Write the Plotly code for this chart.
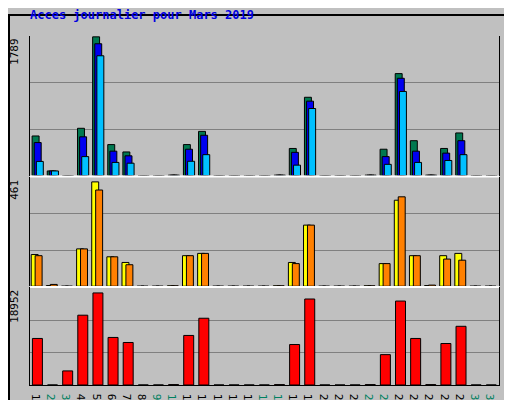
import plotly.graph_objects as go

days = list(range(1, 32))
weekend = [2, 3, 9, 10, 16, 17, 23, 24, 30, 31]

hits = [511, 60, 0, 610, 1789, 400, 305, 0, 0, 6, 400, 570, 0, 0, 0, 0, 6, 350, 1010, 0, 0, 0, 6, 340, 1315, 450, 6, 350, 550, 0, 0]
fichiers = [426, 60, 0, 500, 1700, 315, 255, 0, 0, 6, 340, 520, 0, 0, 0, 0, 6, 300, 960, 0, 0, 0, 6, 245, 1255, 315, 6, 290, 450, 0, 0]
pages = [183, 60, 0, 245, 1545, 170, 160, 0, 0, 6, 185, 270, 0, 0, 0, 0, 6, 135, 865, 0, 0, 0, 6, 145, 1085, 170, 6, 195, 270, 0, 0]
visites = [140, 3, 0, 165, 461, 130, 105, 0, 0, 2, 135, 145, 0, 0, 0, 0, 2, 105, 270, 0, 0, 0, 2, 100, 380, 135, 3, 135, 145, 0, 0]
sites = [135, 8, 0, 165, 425, 130, 95, 0, 0, 2, 135, 145, 0, 0, 0, 0, 2, 100, 270, 0, 0, 0, 2, 100, 395, 135, 5, 120, 115, 0, 0]
ko = [9580, 0, 2900, 14370, 18952, 9790, 8750, 0, 0, 80, 10200, 13740, 0, 0, 0, 0, 80, 8330, 17700, 0, 0, 0, 80, 6250, 17280, 9580, 80, 8540, 12080, 0, 0]

line = dict(color="black", width=1)
fig = go.Figure()

def bars(vals, color, off, w, ax):
    fig.add_trace(go.Bar(x=days, y=vals, marker=dict(color=color, line=line),
                         offset=off, width=w, yaxis=ax, xaxis="x", hoverinfo="skip"))

bars(hits, "#007850", -0.36, 0.46, "y")
bars(fichiers, "#0000f0", -0.22, 0.46, "y")
bars(pages, "#00c0ff", -0.08, 0.46, "y")
bars(visites, "#ffff00", -0.42, 0.46, "y2")
bars(sites, "#ff8000", -0.16, 0.46, "y2")
bars(ko, "#ff0000", -0.34, 0.66, "y3")

ticktext = [("<span style='color:#008060'>%d</span>" % d) if d in weekend else str(d) for d in days]

yax = dict(showticklabels=False, showgrid=True, gridcolor="#808080", gridwidth=1, anchor="x",
           zeroline=False, showline=True, linecolor="black", mirror=True, ticks="")
fig.update_layout(
    width=512, height=400, showlegend=False, barmode="overlay",
    paper_bgcolor="#c0c0c0", plot_bgcolor="#c0c0c0",
    margin=dict(l=22, r=21, t=28, b=23, autoexpand=False),
    font=dict(family="DejaVu Sans Mono", size=11, color="black"),
    xaxis=dict(range=[0.5, 31.5], tickvals=days, ticktext=ticktext, showgrid=False, anchor="y3",
               automargin=False, showline=True, linecolor="black", mirror=True, ticks="", zeroline=False),
    yaxis=dict(domain=[0.6, 1.0], range=[0, 1800], tickvals=[600, 1200], **yax),
    yaxis2=dict(domain=[0.283, 0.595], range=[0, 481], tickvals=[160, 320], **yax),
    yaxis3=dict(domain=[0, 0.278], range=[0, 19970], tickvals=[6657, 13313], **yax),
)

anns = [
    dict(x=-0.005, y=1.06, text="<b>Acces journalier pour Mars 2019</b>", showarrow=False,
         xanchor="left", yanchor="middle", font=dict(color="#0000e0", size=12)),
    dict(x=-0.015, y=1.0, text="1789", textangle=-90, showarrow=False, xanchor="right", yanchor="top"),
    dict(x=-0.015, y=0.595, text="461", textangle=-90, showarrow=False, xanchor="right", yanchor="top"),
    dict(x=-0.015, y=0.278, text="18952", textangle=-90, showarrow=False, xanchor="right", yanchor="top"),
    dict(x=1.005, y=0.6, yanchor="bottom", xanchor="left", textangle=-90, showarrow=False,
         text="<span style='color:#00c0ff'>Pages</span> / <span style='color:#0000f0'>Fichiers</span> / <span style='color:#007850'>Hits</span>"),
    dict(x=1.005, y=0.29, yanchor="bottom", xanchor="left", textangle=-90, showarrow=False,
         text="<span style='color:#ff8000'>Sites</span> / <span style='color:#e0e000'>Visites</span>"),
    dict(x=1.005, y=0.0, yanchor="bottom", xanchor="left", textangle=-90, showarrow=False,
         text="<span style='color:#ff0000'>Ko</span>"),
]
for a in anns:
    a["xref"] = "paper"
    a["yref"] = "paper"
fig.update_layout(annotations=anns)

# white separators between panels and outer frame
for yv in [0.5975, 0.2805]:
    fig.add_shape(type="line", xref="paper", yref="paper", x0=0, x1=1, y0=yv, y1=yv,
                  line=dict(color="white", width=2))
fig.add_shape(type="rect", xref="paper", yref="paper", x0=-21 / 469, x1=489 / 469,
              y0=-22 / 349, y1=370 / 349, line=dict(color="black", width=2))

fig.write_html("out.html")
